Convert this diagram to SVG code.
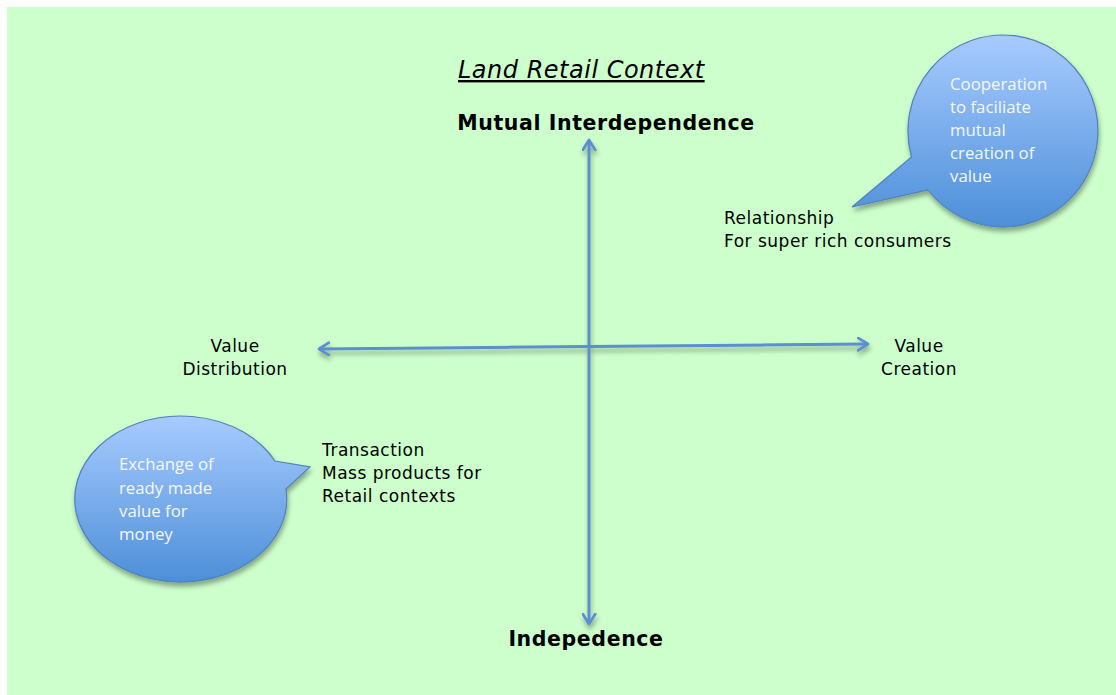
<svg xmlns="http://www.w3.org/2000/svg" width="1116" height="695" viewBox="0 0 1116 695">
<defs>
<linearGradient id="bub" x1="0" y1="0" x2="0" y2="1">
<stop offset="0" stop-color="#A8CBFF"/>
<stop offset="1" stop-color="#4D8FD8"/>
</linearGradient>
<filter id="sh" x="-20%" y="-20%" width="140%" height="150%">
<feGaussianBlur in="SourceAlpha" stdDeviation="2.5"/>
<feOffset dx="1" dy="4" result="b"/>
<feComponentTransfer><feFuncA type="linear" slope="0.35"/></feComponentTransfer>
<feMerge><feMergeNode/><feMergeNode in="SourceGraphic"/></feMerge>
</filter>
<marker id="ah" viewBox="0 0 12 12" refX="9" refY="6" markerWidth="5" markerHeight="5" orient="auto-start-reverse" markerUnits="strokeWidth">
<path d="M1,1 L9,6 L1,11" fill="none" stroke="#5B8FD0" stroke-width="2.2" stroke-linecap="round" stroke-linejoin="round"/>
</marker>
<style>
.lbl{font-family:"DejaVu Sans",Verdana,sans-serif;font-size:17px;letter-spacing:0.5px;fill:#000}
.bold{font-family:"DejaVu Sans",Verdana,sans-serif;font-size:20.5px;letter-spacing:0.6px;font-weight:bold;fill:#000}
.title{font-family:"DejaVu Sans",Verdana,sans-serif;font-size:24px;letter-spacing:0.5px;font-style:italic;text-decoration:underline;fill:#000}
.btxt{font-family:"Open Sans","Noto Sans",sans-serif;font-size:16.8px;fill:#F4F8FF}
.axis{stroke:#5B8FD0;stroke-width:3;fill:none;marker-start:url(#ah);marker-end:url(#ah)}
.bubble{fill:url(#bub);stroke:#4F81BD;stroke-width:1.2}
</style>
</defs>
<rect x="7" y="7" width="1109" height="688" fill="#CCFFCC"/>
<g id="connectors" filter="url(#sh)">
<line class="axis" x1="589" y1="140" x2="589" y2="624"/>
<line class="axis" x1="319" y1="349" x2="868" y2="344"/>
</g>
<g id="title"><text class="title" x="458" y="78">Land Retail Context</text></g>
<g id="top-label"><text class="bold" x="606" y="130" text-anchor="middle">Mutual Interdependence</text></g>
<g id="bottom-label"><text class="bold" x="586" y="646" text-anchor="middle">Indepedence</text></g>
<g id="left-label"><text class="lbl" text-anchor="middle"><tspan x="235" y="352">Value</tspan><tspan x="235" y="375">Distribution</tspan></text></g>
<g id="right-label"><text class="lbl" text-anchor="middle"><tspan x="919" y="352">Value</tspan><tspan x="919" y="375">Creation</tspan></text></g>
<g id="relationship"><text class="lbl"><tspan x="724" y="224">Relationship</tspan><tspan x="724" y="247">For super rich consumers</tspan></text></g>
<g id="transaction"><text class="lbl"><tspan x="322" y="456">Transaction</tspan><tspan x="322" y="479">Mass products for</tspan><tspan x="322" y="502">Retail contexts</tspan></text></g>
<g id="bubble-cooperation">
<path class="bubble" filter="url(#sh)" d="M911.5,157 A95,96 0 1 1 928,190 L852,207 Z"/>
<text class="btxt"><tspan x="950" y="90">Cooperation</tspan><tspan x="950" y="113">to faciliate</tspan><tspan x="950" y="136">mutual</tspan><tspan x="950" y="159">creation of</tspan><tspan x="950" y="182">value</tspan></text>
</g>
<g id="bubble-exchange">
<path class="bubble" filter="url(#sh)" d="M275,461 L310,467 L286,489 A106,83 0 1 1 275,461 Z"/>
<text class="btxt"><tspan x="119" y="470">Exchange of</tspan><tspan x="119" y="494">ready made</tspan><tspan x="119" y="517">value for</tspan><tspan x="119" y="540">money</tspan></text>
</g>
</svg>
